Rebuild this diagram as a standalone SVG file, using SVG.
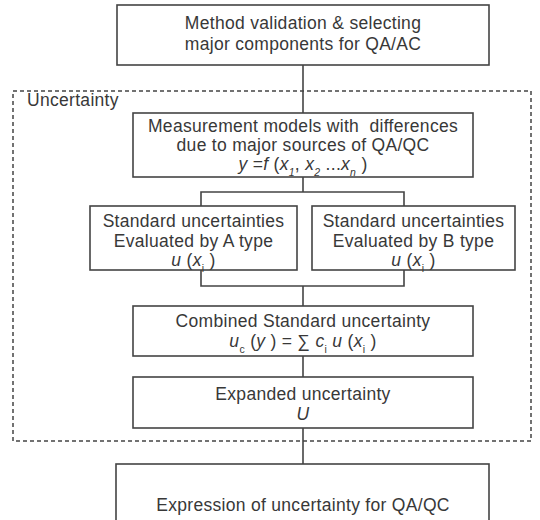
<svg xmlns="http://www.w3.org/2000/svg" width="540" height="520" viewBox="0 0 540 520">
<style>
.box{fill:#ffffff;stroke:#444444;stroke-width:1.6}
.wire{fill:none;stroke:#444444;stroke-width:1.6}
.dash{fill:none;stroke:#444444;stroke-width:1.5;stroke-dasharray:4 3}
text{font-family:"Liberation Sans",Arial,sans-serif;font-size:17.5px;letter-spacing:0.3px;fill:#383838;text-anchor:middle}
.lbl{text-anchor:start}
.it{font-style:italic}
.sub{font-size:10.5px}
</style>
<rect width="540" height="520" fill="#ffffff"/>
<g id="connectors">
<line class="wire" x1="303" y1="65" x2="303" y2="113"/>
<line class="wire" x1="303" y1="177" x2="303" y2="192"/>
<polyline class="wire" points="201,206 201,192 404,192 404,206"/>
<polyline class="wire" points="201,270 201,286 404,286 404,270"/>
<line class="wire" x1="303" y1="286" x2="303" y2="306"/>
<line class="wire" x1="303" y1="356" x2="303" y2="377"/>
<line class="wire" x1="303" y1="428" x2="303" y2="464"/>
</g>
<g id="uncertainty-group">
<rect class="dash" x="13" y="91" width="518" height="350"/>
<text class="lbl" x="27" y="106">Uncertainty</text>
</g>
<g id="n-method">
<rect class="box" x="117" y="5" width="372" height="60"/>
<text x="303" y="29">Method validation &amp; selecting</text>
<text x="303" y="50">major components for QA/AC</text>
</g>
<g id="n-model">
<rect class="box" x="133" y="113" width="340" height="64"/>
<text x="303" y="132" xml:space="preserve">Measurement models with  differences</text>
<text x="303" y="151">due to major sources of QA/QC</text>
<text x="303" y="170"><tspan class="it">y</tspan> =<tspan class="it">f</tspan> (<tspan class="it">x</tspan><tspan class="sub it" baseline-shift="sub">1</tspan>, <tspan class="it">x</tspan><tspan class="sub it" baseline-shift="sub">2</tspan> ...<tspan class="it">x</tspan><tspan class="sub it" baseline-shift="sub">n</tspan> )</text>
</g>
<g id="n-typeA">
<rect class="box" x="90" y="206" width="207" height="64"/>
<text x="193.5" y="227">Standard uncertainties</text>
<text x="193.5" y="247">Evaluated by A type</text>
<text x="193.5" y="266"><tspan class="it">u</tspan> (<tspan class="it">x</tspan><tspan class="sub" baseline-shift="sub">i</tspan> )</text>
</g>
<g id="n-typeB">
<rect class="box" x="312" y="206" width="203" height="64"/>
<text x="413.5" y="227">Standard uncertainties</text>
<text x="413.5" y="247">Evaluated by B type</text>
<text x="413.5" y="266"><tspan class="it">u</tspan> (<tspan class="it">x</tspan><tspan class="sub" baseline-shift="sub">i</tspan> )</text>
</g>
<g id="n-combined">
<rect class="box" x="133" y="306" width="340" height="50"/>
<text x="303" y="327">Combined Standard uncertainty</text>
<text x="303" y="347"><tspan class="it">u</tspan><tspan class="sub" baseline-shift="sub">c</tspan> (<tspan class="it">y</tspan> ) = ∑ <tspan class="it">c</tspan><tspan class="sub" baseline-shift="sub">i</tspan> <tspan class="it">u</tspan> (<tspan class="it">x</tspan><tspan class="sub" baseline-shift="sub">i</tspan> )</text>
</g>
<g id="n-expanded">
<rect class="box" x="133" y="377" width="340" height="51"/>
<text x="303" y="400">Expanded uncertainty</text>
<text x="303" y="420" class="it">U</text>
</g>
<g id="n-expression">
<rect class="box" x="116" y="464" width="373" height="62"/>
<text x="303" y="511">Expression of uncertainty for QA/QC</text>
</g>
</svg>
